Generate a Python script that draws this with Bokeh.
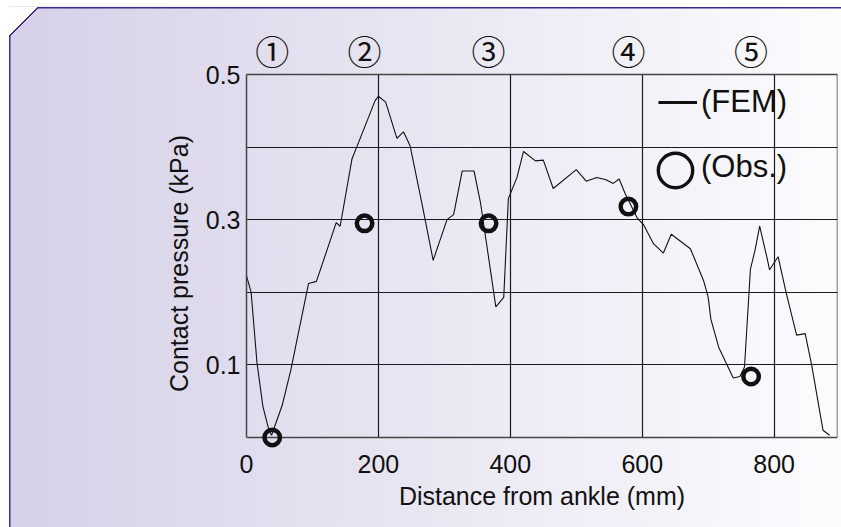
from bokeh.plotting import figure
from bokeh.models import (ColumnDataSource, FixedTicker, LinearAxis, Legend,
                          LegendItem, Range1d, Grid)
from bokeh.embed import file_html
from bokeh.resources import INLINE

# ---------------- data ----------------
fem_x = [0, 7, 16, 25, 34, 38, 54, 67, 94, 106, 122, 136, 142, 160, 168, 195,
         200, 211, 228, 238, 248, 266, 283, 304, 314, 327, 345, 355, 367, 378,
         390, 397, 410, 420, 438, 450, 465, 500, 515, 531, 545, 556, 565, 574,
         592, 602, 617, 632, 644, 673, 693, 700, 704, 716, 738, 748, 755, 764,
         771, 778, 789, 793, 806, 818, 834, 847, 857, 874, 884]
fem_y = [0.223, 0.200, 0.102, 0.042, 0.010, 0.003, 0.044, 0.092, 0.212, 0.215,
         0.258, 0.296, 0.291, 0.384, 0.402, 0.464, 0.470, 0.462, 0.412, 0.421,
         0.402, 0.322, 0.244, 0.300, 0.307, 0.367, 0.367, 0.322, 0.248, 0.180,
         0.193, 0.329, 0.358, 0.394, 0.381, 0.382, 0.343, 0.369, 0.353, 0.358,
         0.355, 0.350, 0.356, 0.336, 0.303, 0.293, 0.267, 0.254, 0.280, 0.260,
         0.216, 0.193, 0.163, 0.124, 0.082, 0.084, 0.097, 0.232, 0.258, 0.291,
         0.248, 0.231, 0.249, 0.200, 0.141, 0.143, 0.099, 0.010, 0.003]

obs_x = [39, 179, 367, 579, 765]
obs_y = [0.0, 0.295, 0.295, 0.318, 0.084]
obs_labels = ["①", "②", "③", "④", "⑤"]

x_ticks = [0, 200, 400, 600, 800]
x_grid = [200, 400, 600, 800]
y_ticks = [0.1, 0.3, 0.5]
y_grid = [0.1, 0.2, 0.3, 0.4]

legend_labels = ["(FEM)", "(Obs.)"]
x_title = "Distance from ankle (mm)"
y_title = "Contact pressure (kPa)"

# ---------------- style / layout ----------------
FONT = "Liberation Sans"
INK = "#111111"
BOX = "#444444"
GRID = "#1a1a1a"
E = "#3a2c8c"          # panel edge colour

X_MAX = 896
Y_MAX = 0.5
EXTENDED = "cross_bounds" in Grid.properties()
Y_MIN = -0.0207 if EXTENDED else 0.0       # room below y=0 so the first circle is not cut
MB_BOTTOM = 75 if EXTENDED else 90
FB = 527 - MB_BOTTOM                         # frame bottom (page px)
FL = 246                                     # frame left (page px)

p = figure(width=841, height=527,
           x_range=Range1d(0, X_MAX), y_range=Range1d(Y_MIN, Y_MAX),
           output_backend="svg", toolbar_location=None,
           min_border_left=FL, min_border_right=4,
           min_border_top=74, min_border_bottom=MB_BOTTOM,
           background_fill_alpha=0, border_fill_alpha=0)

p.styles = {
    "background": ", ".join([
        f"linear-gradient(135deg, #ffffff 0px, #ffffff 19.8px, {E} 19.8px, {E} 21.4px, "
        "rgba(255,255,255,0) 21.4px) 9px 6.5px / 40px 40px no-repeat",
        "linear-gradient(#ffffff, #ffffff) 0 0 / 9px 100% no-repeat",
        "linear-gradient(#ffffff, #ffffff) 0 0 / 100% 6.5px no-repeat",
        f"linear-gradient({E}, {E}) 37px 6.5px / 100% 1.5px no-repeat",
        f"linear-gradient({E}, {E}) 9px 34.5px / 1.5px 100% no-repeat",
        "linear-gradient(to right, #d5d0e7, #fcfcfe)",
    ])
}

# data
src_fem = ColumnDataSource(dict(x=fem_x, y=fem_y))
src_obs = ColumnDataSource(dict(x=obs_x, y=obs_y))
p.line("x", "y", source=src_fem, line_color=INK, line_width=1.1)
p.scatter("x", "y", source=src_obs, marker="circle", size=15.5,
          fill_color=None, line_color=INK, line_width=4.5)

# axes
for ax in (p.xaxis[0], p.yaxis[0]):
    ax.axis_line_color = None
    ax.major_tick_line_color = None
    ax.minor_tick_line_color = None
    ax.major_tick_out = 0
    ax.major_tick_in = 0
    ax.major_label_text_font = FONT
    ax.major_label_text_font_size = "25px"
    ax.major_label_text_color = INK
    ax.axis_label_text_font = FONT
    ax.axis_label_text_font_size = "25px"
    ax.axis_label_text_font_style = "normal"
    ax.axis_label_text_color = INK

p.xaxis.ticker = FixedTicker(ticks=x_ticks)
p.xaxis.major_label_standoff = 2 if EXTENDED else 17
p.xaxis.axis_label = x_title
p.xaxis.axis_label_standoff = 6

p.yaxis.ticker = FixedTicker(ticks=y_ticks)
p.yaxis.major_label_standoff = 6
p.yaxis.axis_label = y_title
p.yaxis.axis_label_standoff = 10

top = LinearAxis(ticker=FixedTicker(ticks=obs_x),
                 major_label_overrides={k: v for k, v in zip(obs_x, obs_labels)},
                 axis_line_color=None, major_tick_line_color=None,
                 minor_tick_line_color=None, major_tick_out=0, major_tick_in=0,
                 major_label_standoff=0,
                 major_label_text_font="Noto Sans CJK JP",
                 major_label_text_font_size="34px",
                 major_label_text_color=INK)
p.add_layout(top, "above")

# grid
p.xgrid.ticker = FixedTicker(ticks=x_grid)
p.ygrid.ticker = FixedTicker(ticks=y_grid)
for g in (p.xgrid[0], p.ygrid[0]):
    g.grid_line_color = GRID
    g.grid_line_width = 1.2

if EXTENDED:
    # draw the plot box from guides so it stops at y = 0
    p.outline_line_color = None
    p.xgrid.cross_bounds = (0, Y_MAX)
    top.axis_line_color = BOX
    top.axis_line_width = 1.5
    p.yaxis.axis_line_color = BOX
    p.yaxis.axis_line_width = 1.5
    p.yaxis.bounds = (0, Y_MAX)
    p.add_layout(Grid(dimension=1, ticker=FixedTicker(ticks=[0]),
                      grid_line_color=BOX, grid_line_width=1.5))
    p.add_layout(Grid(dimension=0, ticker=FixedTicker(ticks=[X_MAX - 0.5]),
                      cross_bounds=(0, Y_MAX),
                      grid_line_color=BOX, grid_line_width=1.5))
else:
    p.outline_line_color = BOX
    p.outline_line_width = 1.5

# legend keys: hidden copies of the series so the key glyphs can be bolder
key_line = p.line("x", "y", source=src_fem, line_color=INK, line_width=3,
                  visible=False)
key_blank = p.line("x", "y", source=src_fem, line_alpha=0, visible=False)
key_circ = p.scatter("x", "y", source=src_obs, marker="circle", size=10,
                     fill_color=None, line_color=INK, line_width=3.4,
                     visible=False)

common = dict(padding=0, margin=0, border_line_alpha=0, background_fill_alpha=0,
              label_text_font=FONT, label_text_font_size="31px",
              label_text_color=INK, click_policy="none")
# texts (and the FEM dash)
leg_text = Legend(items=[LegendItem(label=legend_labels[0], renderers=[key_line], index=0),
                         LegendItem(label=legend_labels[1], renderers=[key_blank], index=0)],
                  location=(658 - FL, FB - 185), glyph_width=39, glyph_height=30,
                  label_height=30, label_standoff=4, spacing=29, **common)
# big open circle key for the observations
leg_circ = Legend(items=[LegendItem(label=" ", renderers=[key_circ], index=0)],
                  location=(675 - 43 - FL, FB - 213), glyph_width=86, glyph_height=86,
                  label_height=30, label_standoff=0, spacing=0, **common)
p.add_layout(leg_text)
p.add_layout(leg_circ)

open("out.html", "w").write(file_html(p, INLINE))
